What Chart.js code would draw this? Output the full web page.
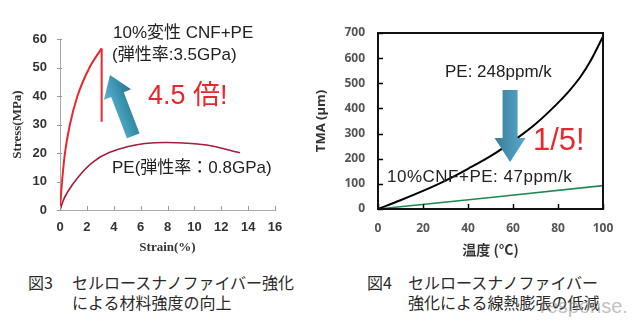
<!DOCTYPE html>
<html><head><meta charset="utf-8">
<script src="https://cdn.jsdelivr.net/npm/chart.js@4.4.1/dist/chart.umd.min.js"></script>
<style>
html,body{margin:0;padding:0;background:#fff;}
#wrap{position:relative;width:640px;height:327px;overflow:hidden;background:#fff;}
canvas{position:absolute;top:0;}
.t{position:absolute;white-space:nowrap;font-family:"Liberation Sans","Noto Sans CJK JP",sans-serif;color:#222;}
.cap{position:absolute;white-space:nowrap;font-family:"Noto Sans CJK JP",sans-serif;font-size:16px;line-height:20px;color:#2a2a2a;}
</style></head>
<body><div id="wrap">
<canvas id="c1" width="300" height="260" style="left:0"></canvas>
<canvas id="c2" width="340" height="260" style="left:300px"></canvas>

<div class="t" style="left:113px;top:22px;font-size:17px;line-height:22px;">10%変性 CNF+PE</div>
<div class="t" style="left:112px;top:44px;font-size:17px;line-height:22px;">(弾性率:3.5GPa)</div>
<div class="t" style="left:148px;top:78px;font-size:27px;line-height:34px;color:#e8282c;">4.5 倍!</div>
<div class="t" style="left:112px;top:157px;font-size:17px;line-height:22px;">PE(弾性率：0.8GPa)</div>

<div class="t" style="left:445px;top:61px;font-size:17px;line-height:22px;">PE: 248ppm/k</div>
<div class="t" style="left:533px;top:121px;font-size:31px;line-height:38px;color:#e8282c;">1/5!</div>
<div class="t" style="left:387px;top:166px;font-size:17px;line-height:22px;letter-spacing:0.5px;">10%CNF+PE: 47ppm/k</div>

<div class="cap" style="left:28px;top:272px;">図3</div>
<div class="cap" style="left:72px;top:272px;">セルロースナノファイバー強化</div>
<div class="cap" style="left:72px;top:292px;">による材料強度の向上</div>
<div class="cap" style="left:367px;top:272px;">図4</div>
<div class="cap" style="left:408px;top:272px;">セルロースナノファイバー</div>
<div class="cap" style="left:408px;top:292px;">強化による線熱膨張の低減</div>
<div class="t" style="left:540px;top:294px;font-size:20px;line-height:24px;color:rgba(140,140,140,0.55);">response.</div>
</div>
<script>
// ---- Figure 3: stress-strain ----
const strainCNF = [0, 0.1, 0.37, 0.74, 1.3, 2.2, 3.1];
const stressCNF = [0, 7, 20, 30, 40, 50, 56.7];
const strainCNFDrop = [3.1, 3.1];
const stressCNFDrop = [56.7, 31];
const strainPE = [0, 0.3, 1, 2.5, 5, 7.9, 10.9, 13.4];
const stressPE = [0, 4, 9.4, 17, 22.2, 23.7, 22.8, 20.1];
const strainTicks = [0, 2, 4, 6, 8, 10, 12, 14, 16];
const stressTicks = [0, 10, 20, 30, 40, 50, 60];

// ---- Figure 4: TMA vs temperature ----
const tempPE = [0, 10, 20, 30, 40, 50, 60, 70, 80, 85, 90, 95, 100];
const tmaPE = [0, 35, 72, 113, 160, 210, 270, 338, 422, 470, 526, 598, 686];
const tempCNF = [0, 50, 100];
const tmaCNF = [0, 46, 93];
const tempTicks = [0, 20, 40, 60, 80, 100];
const tmaTicks = [0, 100, 200, 300, 400, 500, 600, 700];

const pts = (xs, ys) => xs.map((x, i) => ({x, y: ys[i]}));

const tickMarks = {
  id: 'tickMarks',
  afterDatasetsDraw(chart, args, o) {
    const {ctx, chartArea: a, scales: {x, y}} = chart;
    ctx.save();
    ctx.strokeStyle = o.color; ctx.lineWidth = o.width;
    ctx.beginPath();
    x.ticks.forEach(t => {
      const px = Math.round(x.getPixelForValue(t.value)) + 0.5;
      ctx.moveTo(px, a.bottom + o.x0); ctx.lineTo(px, a.bottom + o.x1);
    });
    y.ticks.forEach(t => {
      const py = Math.round(y.getPixelForValue(t.value)) + 0.5;
      ctx.moveTo(a.left + o.y0, py); ctx.lineTo(a.left + o.y1, py);
    });
    ctx.stroke();
    if (o.box) {
      ctx.lineWidth = o.boxWidth; ctx.strokeStyle = o.boxColor;
      ctx.strokeRect(a.left, a.top, a.right - a.left, a.bottom - a.top);
    }
    ctx.restore();
  }
};

const blockArrow = {
  id: 'blockArrow',
  afterDatasetsDraw(chart, args, o) {
    const {ctx, scales: {x, y}} = chart;
    const x0 = x.getPixelForValue(o.from[0]), y0 = y.getPixelForValue(o.from[1]);
    const x1 = x.getPixelForValue(o.to[0]), y1 = y.getPixelForValue(o.to[1]);
    const dx = x1 - x0, dy = y1 - y0, L = Math.hypot(dx, dy);
    const ux = dx / L, uy = dy / L, nx = -uy, ny = ux;
    const hb = L - o.headLen;
    const sw = o.shaft / 2, hw = o.head / 2;
    const P = (s, n) => [x0 + ux * s + nx * n, y0 + uy * s + ny * n];
    const poly = [P(0, -sw), P(hb, -sw), P(hb, -hw), P(L, 0), P(hb, hw), P(hb, sw), P(0, sw)];
    const g = ctx.createLinearGradient(...P(hb / 2, -hw), ...P(hb / 2, hw));
    g.addColorStop(0, o.c0); g.addColorStop(0.5, o.c1); g.addColorStop(1, o.c2);
    ctx.save();
    ctx.beginPath();
    poly.forEach((p, i) => i ? ctx.lineTo(...p) : ctx.moveTo(...p));
    ctx.closePath();
    ctx.fillStyle = g; ctx.fill();
    ctx.restore();
  }
};

new Chart(document.getElementById('c1'), {
  type: 'line',
  data: {
    datasets: [
      {data: pts(strainCNF, stressCNF), borderColor: '#e8282c', borderWidth: 2, cubicInterpolationMode: 'monotone', pointRadius: 0, fill: false},
      {data: pts(strainCNFDrop, stressCNFDrop), borderColor: '#e8282c', borderWidth: 2, tension: 0, pointRadius: 0, fill: false},
      {data: pts(strainPE, stressPE), borderColor: '#a01f3c', borderWidth: 1.6, cubicInterpolationMode: 'monotone', pointRadius: 0, fill: false}
    ]
  },
  options: {
    responsive: false, animation: false,
    layout: {padding: {top: 39, right: 25, left: 0, bottom: 0}},
    plugins: {
      legend: {display: false}, tooltip: {enabled: false},
      tickMarks: {color: '#999', width: 1, x0: 0, x1: -4, y0: -3, y1: 2, box: false},
      blockArrow: {from: [5.45, 26], to: [3.72, 47.4], shaft: 13.5, head: 29, headLen: 21, c0: '#5fb4cf', c1: '#3c97b3', c2: '#2a7690'}
    },
    scales: {
      x: {
        type: 'linear', min: 0, max: 16,
        afterFit: s => { s.height = 50; },
        afterBuildTicks: s => { s.ticks = strainTicks.map(v => ({value: v})); },
        grid: {display: false, drawTicks: false},
        border: {display: true, color: '#aaa', width: 1},
        ticks: {padding: 10, color: '#333', font: {family: 'Liberation Sans', size: 13, weight: 'bold'}, maxRotation: 0},
        title: {display: true, text: 'Strain(%)', color: '#333', font: {family: 'Liberation Serif', size: 13, weight: 'bold'}, padding: {top: 0, bottom: 5}}
      },
      y: {
        type: 'linear', min: 0, max: 60,
        afterFit: s => { s.width = 60; },
        afterBuildTicks: s => { s.ticks = stressTicks.map(v => ({value: v})); },
        grid: {display: false, drawTicks: false},
        border: {display: true, color: '#aaa', width: 1},
        ticks: {padding: 13, color: '#333', font: {family: 'Liberation Sans', size: 13, weight: 'bold'}},
        title: {display: true, text: 'Stress(MPa)', color: '#333', font: {family: 'Liberation Serif', size: 13, weight: 'bold'}, padding: {top: 10, bottom: 0}}
      }
    }
  },
  plugins: [tickMarks, blockArrow]
});

new Chart(document.getElementById('c2'), {
  type: 'line',
  data: {
    datasets: [
      {data: pts(tempPE, tmaPE), borderColor: '#000', borderWidth: 2, cubicInterpolationMode: 'monotone', pointRadius: 0, fill: false},
      {data: pts(tempCNF, tmaCNF), borderColor: '#1f8a50', borderWidth: 1.6, tension: 0, pointRadius: 0, fill: false}
    ]
  },
  options: {
    responsive: false, animation: false,
    layout: {padding: {top: 33, right: 37, left: 0, bottom: 0}},
    plugins: {
      legend: {display: false}, tooltip: {enabled: false},
      tickMarks: {color: '#000', width: 1.5, x0: 0, x1: -5, y0: 0, y1: 5, box: true, boxWidth: 2, boxColor: '#111'},
      blockArrow: {from: [58.7, 473], to: [58.7, 187], shaft: 15, head: 31, headLen: 24, c0: '#5aa8cc', c1: '#4893b5', c2: '#3a7a94'}
    },
    scales: {
      x: {
        type: 'linear', min: 0, max: 100,
        afterFit: s => { s.height = 51; },
        afterBuildTicks: s => { s.ticks = tempTicks.map(v => ({value: v})); },
        grid: {display: false, drawTicks: false},
        border: {display: false},
        ticks: {padding: 12, color: '#555', font: {family: 'Open Sans', size: 12, weight: 'bold'}, maxRotation: 0},
        title: {display: true, text: '温度 (°C)', color: '#333', font: {family: 'Noto Sans CJK JP', size: 14, weight: 'bold'}, padding: {top: 0, bottom: 2}}
      },
      y: {
        type: 'linear', min: 0, max: 700,
        afterFit: s => { s.width = 78; },
        afterBuildTicks: s => { s.ticks = tmaTicks.map(v => ({value: v})); },
        grid: {display: false, drawTicks: false},
        border: {display: false},
        ticks: {padding: 13, color: '#555', font: {family: 'Open Sans', size: 12, weight: 'bold'}},
        title: {display: true, text: 'TMA (μm)', color: '#333', font: {family: 'Open Sans', size: 13, weight: 'bold'}, padding: {top: 13, bottom: 0}}
      }
    }
  },
  plugins: [tickMarks, blockArrow]
});
</script>
</body></html>
